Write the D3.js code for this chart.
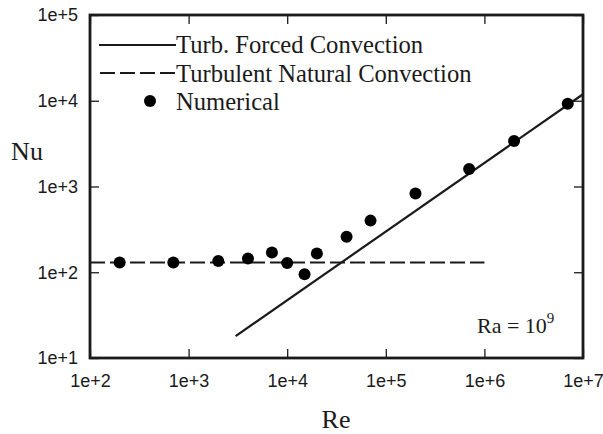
<!DOCTYPE html>
<html>
<head>
<meta charset="utf-8">
<script src="https://cdn.jsdelivr.net/npm/d3@7"></script>
<style>
  html, body { margin: 0; padding: 0; background: #fff; }
  svg { display: block; }
</style>
</head>
<body>
<svg id="chart" width="603" height="434"></svg>
<script>
// ---- data ----
const reNumerical = [200, 700, 2000, 4000, 7000, 10000, 15000, 20000, 40000, 70000, 200000, 700000, 2000000, 7000000];
const nuNumerical = [130, 130, 135, 145, 170, 128, 95, 165, 260, 400, 830, 1600, 3400, 9200];
const reForced = [3000, 10000000];
const nuForced = [18, 11900];
const reNatural = [100, 1000000];
const nuNatural = [130, 130];
const xTickValues = [1e2, 1e3, 1e4, 1e5, 1e6, 1e7];
const xTickLabels = ["1e+2", "1e+3", "1e+4", "1e+5", "1e+6", "1e+7"];
const yTickValues = [1e1, 1e2, 1e3, 1e4, 1e5];
const yTickLabels = ["1e+1", "1e+2", "1e+3", "1e+4", "1e+5"];
const legendLabels = ["Turb. Forced Convection", "Turbulent Natural Convection", "Numerical"];

// ---- layout ----
const svg = d3.select("#chart");
const L = 90, R = 583, T = 15, B = 358;
const x = d3.scaleLog().domain([1e2, 1e7]).range([L, R]);
const y = d3.scaleLog().domain([1e1, 1e5]).range([B, T]);
const ink = "#1a1a1a";
const sans = "'Liberation Sans', Arial, sans-serif";
const serif = "'Liberation Serif', 'Times New Roman', serif";

// axes
function styleAxis(g, showLabels) {
  g.select(".domain").remove();
  g.selectAll(".tick line").attr("stroke", ink).attr("stroke-width", 1.3);
  g.selectAll(".tick text")
    .attr("fill", ink)
    .style("font-family", sans)
    .style("font-size", "18px");
  if (!showLabels) g.selectAll(".tick text").remove();
}
const xi = v => xTickLabels[xTickValues.indexOf(v)];
const yi = v => yTickLabels[yTickValues.indexOf(v)];

svg.append("g").attr("transform", `translate(0,${B})`)
  .call(d3.axisBottom(x).tickValues(xTickValues).tickFormat(xi).tickSizeInner(-9).tickSizeOuter(0).tickPadding(16))
  .call(g => styleAxis(g, true));
svg.append("g").attr("transform", `translate(0,${T})`)
  .call(d3.axisTop(x).tickValues(xTickValues).tickFormat(xi).tickSizeInner(-9).tickSizeOuter(0))
  .call(g => styleAxis(g, false));
svg.append("g").attr("transform", `translate(${L},0)`)
  .call(d3.axisLeft(y).tickValues(yTickValues).tickFormat(yi).tickSizeInner(-9).tickSizeOuter(0).tickPadding(12))
  .call(g => styleAxis(g, true));
svg.append("g").attr("transform", `translate(${R},0)`)
  .call(d3.axisRight(y).tickValues(yTickValues).tickFormat(yi).tickSizeInner(-9).tickSizeOuter(0))
  .call(g => styleAxis(g, false));

// frame
svg.append("rect")
  .attr("x", L).attr("y", T).attr("width", R - L).attr("height", B - T)
  .attr("fill", "none").attr("stroke", ink).attr("stroke-width", 2.8);

// lines
const line = d3.line().x(d => x(d[0])).y(d => y(d[1]));
svg.append("path")
  .datum(reNatural.map((r, i) => [r, nuNatural[i]]))
  .attr("d", line).attr("fill", "none").attr("stroke", ink)
  .attr("stroke-width", 2.2).attr("stroke-dasharray", "15,5");
svg.append("path")
  .datum(reForced.map((r, i) => [r, nuForced[i]]))
  .attr("d", line).attr("fill", "none").attr("stroke", ink)
  .attr("stroke-width", 2.2);

// points
svg.append("g").selectAll("circle")
  .data(reNumerical.map((r, i) => [r, nuNumerical[i]]))
  .join("circle")
  .attr("cx", d => x(d[0])).attr("cy", d => y(d[1]))
  .attr("r", 6).attr("fill", "#000");

// legend
const leg = svg.append("g");
leg.append("line").attr("x1", 99).attr("x2", 176).attr("y1", 45).attr("y2", 45)
  .attr("stroke", ink).attr("stroke-width", 2.2);
leg.append("line").attr("x1", 100).attr("x2", 176).attr("y1", 73).attr("y2", 73)
  .attr("stroke", ink).attr("stroke-width", 2.2).attr("stroke-dasharray", "15,5");
leg.append("circle").attr("cx", 150).attr("cy", 101).attr("r", 6).attr("fill", "#000");
leg.selectAll("text").data(legendLabels).join("text")
  .attr("x", 176).attr("y", (d, i) => 53 + i * 28.5)
  .attr("fill", ink)
  .style("font-family", serif).style("font-size", "24.6px")
  .text(d => d);

// axis titles
svg.append("text").attr("x", 27).attr("y", 160).attr("text-anchor", "middle")
  .attr("fill", ink).style("font-family", serif).style("font-size", "26px").text("Nu");
svg.append("text").attr("x", 336).attr("y", 428).attr("text-anchor", "middle")
  .attr("fill", ink).style("font-family", serif).style("font-size", "26px").text("Re");

// annotation
const ra = svg.append("text").attr("x", 477).attr("y", 333)
  .attr("fill", ink).style("font-family", serif).style("font-size", "22px");
ra.append("tspan").text("Ra = 10");
ra.append("tspan").attr("dy", -10).style("font-size", "15px").text("9");
</script>
</body>
</html>
